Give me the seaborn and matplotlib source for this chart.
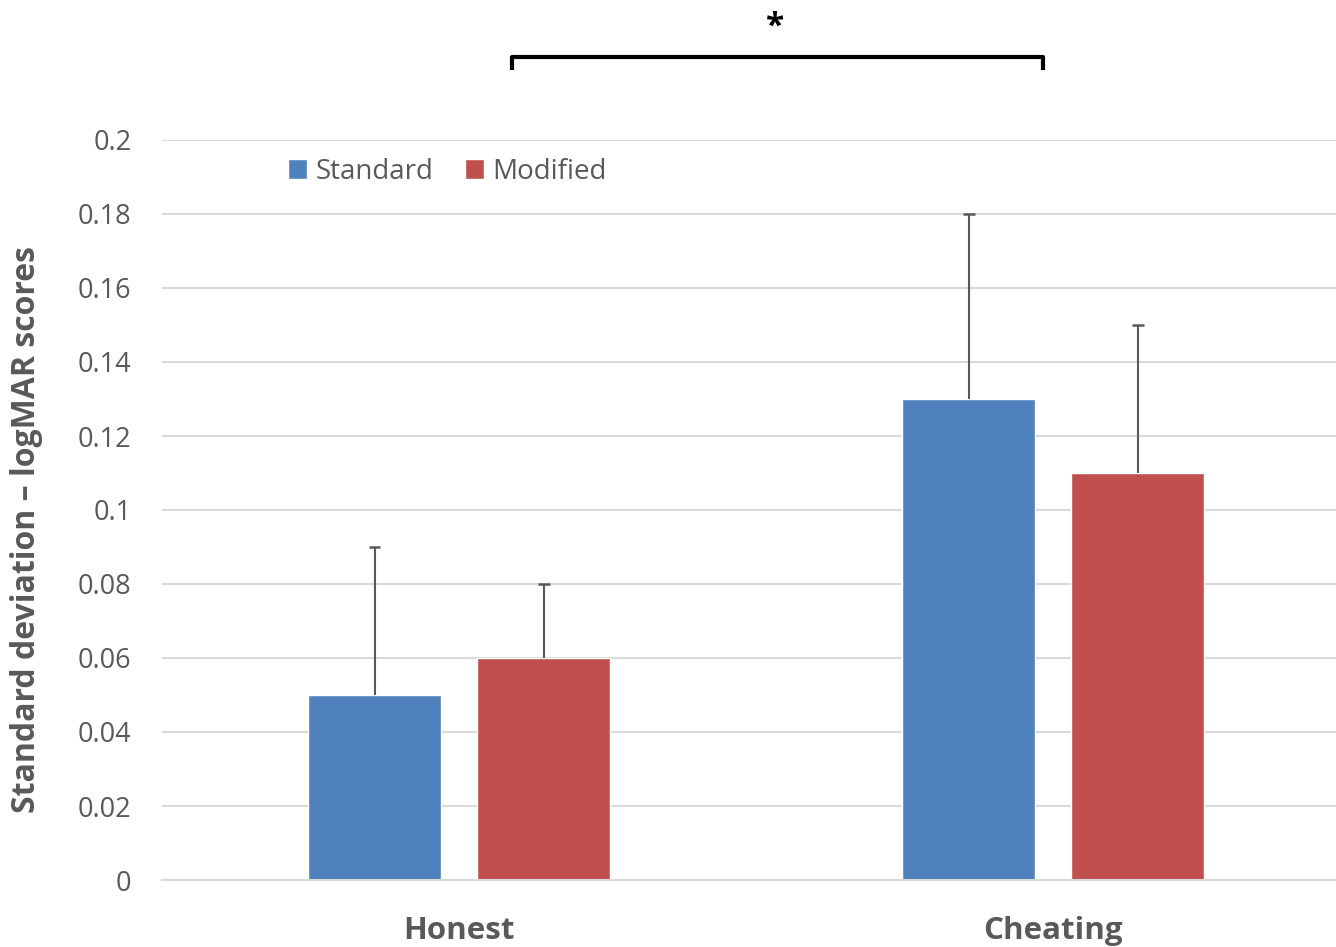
import matplotlib
matplotlib.use("Agg")
import matplotlib.pyplot as plt
import seaborn as sns
import pandas as pd
import numpy as np

# values
groups = ["Honest", "Cheating"]
tests = ["Standard", "Modified"]
sd_standard = [0.05, 0.13]
sd_modified = [0.06, 0.11]
err_standard = [0.04, 0.05]
err_modified = [0.02, 0.04]

df = pd.DataFrame({
    "group": groups * 2,
    "test": [tests[0]] * 2 + [tests[1]] * 2,
    "sd": sd_standard + sd_modified,
})
errs = {"Standard": err_standard, "Modified": err_modified}

sns.set_style("white")
plt.rcParams["font.family"] = ["Open Sans", "DejaVu Sans"]
grey = "#595959"

fig = plt.figure(figsize=(13.36, 9.47), dpi=100)
ax = fig.add_axes([162 / 1336, 67 / 947, 1174 / 1336, 740 / 947])

sns.barplot(data=df, x="group", y="sd", hue="test", order=groups, hue_order=tests,
            palette=["#4f81bd", "#c0504d"], saturation=1, width=0.569, gap=0.213,
            errorbar=None, ax=ax, zorder=2)

# upward-only error bars
for cont, name in zip(ax.containers, tests):
    for patch, e in zip(cont, errs[name]):
        x = patch.get_x() + patch.get_width() / 2
        h = patch.get_height()
        ax.vlines(x, h, h + e, color=grey, lw=1.5, zorder=3)
        ax.hlines(h + e, x - 0.01, x + 0.01, color=grey, lw=1.8, zorder=3)

ax.set_ylim(0, 0.2)
ax.set_xlim(-0.5, 1.476)
ax.set_yticks(np.arange(0, 0.201, 0.02))
ax.set_yticklabels(["0"] + [f"{v:g}" for v in np.arange(0.02, 0.201, 0.02).round(2)])
ax.yaxis.grid(True, color="#d9d9d9", lw=1.5)
ax.set_axisbelow(True)
for s in ["top", "right", "left"]:
    ax.spines[s].set_visible(False)
ax.spines["bottom"].set_color("#d9d9d9")
ax.spines["bottom"].set_linewidth(1.5)

ax.tick_params(axis="y", length=0, pad=22, labelsize=19.5, labelcolor=grey)
ax.tick_params(axis="x", length=0, pad=26, labelsize=22.5, labelcolor=grey)
for lab in ax.get_xticklabels():
    lab.set_fontweight("bold")

ax.set_xlabel("")
ax.set_ylabel("Standard deviation \u2013 logMAR scores", fontsize=23,
              fontweight="bold", color=grey)
ax.yaxis.set_label_coords(-0.101, 0.474)

ax.legend(loc="center left", bbox_to_anchor=(0.086, 0.957), ncol=2, frameon=False,
          fontsize=20, labelcolor=grey, handlelength=0.7, handleheight=0.7,
          handletextpad=0.28, columnspacing=1.15)

# significance bracket
ax.plot([0.089, 0.089, 0.983, 0.983], [0.219, 0.2224, 0.2224, 0.219], color="black",
        lw=3, clip_on=False, solid_joinstyle="round", solid_capstyle="butt")
ax.text(0.532, 0.2305, "*", fontsize=24, fontweight="bold", ha="center", va="center",
        color="black")

fig.savefig("out.png", dpi=100)
